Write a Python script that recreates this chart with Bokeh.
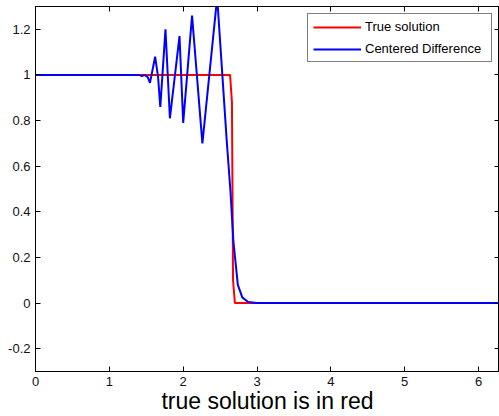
import numpy as np
from bokeh.plotting import figure
from bokeh.models import Range1d, FixedTicker, LinearAxis, Legend, LegendItem
from bokeh.embed import file_html
from bokeh.resources import INLINE

# ---- data ----
true_x = [0.0, 2.635, 2.66, 2.675, 2.70, 6.2832]
true_y = [1.0, 1.0, 0.88, 0.10, 0.0, 0.0]

cd_x = [0.0, 1.40, 1.44, 1.48, 1.52, 1.55, 1.62, 1.66, 1.69, 1.76, 1.82, 1.95,
        2.00, 2.12, 2.26, 2.46, 2.59, 2.64, 2.68, 2.74, 2.80, 2.88, 3.00, 6.2832]
cd_y = [1.0, 1.0, 0.995, 1.0, 0.99, 0.965, 1.08, 0.99, 0.86, 1.20, 0.81, 1.17,
        0.79, 1.26, 0.70, 1.34, 0.71, 0.49, 0.27, 0.08, 0.025, 0.005, 0.0, 0.0]

x_ticks = [0, 1, 2, 3, 4, 5, 6]
x_tick_labels = ["0", "1", "2", "3", "4", "5", "6"]
y_ticks = [-0.2, 0.0, 0.2, 0.4, 0.6, 0.8, 1.0, 1.2]
y_tick_labels = ["-0.2", "0", "0.2", "0.4", "0.6", "0.8", "1", "1.2"]

series_names = ["True solution", "Centered Difference"]
x_label = "true solution is in red"

FONT = "Liberation Sans"

p = figure(width=499, height=416, x_range=Range1d(0, 2 * np.pi), y_range=Range1d(-0.3, 1.3),
           output_backend="svg", toolbar_location=None,
           min_border_left=35, min_border_right=0, min_border_top=6, min_border_bottom=45)
p.xgrid.visible = False
p.ygrid.visible = False
p.outline_line_color = "black"
p.outline_line_width = 1
p.background_fill_color = "white"
p.border_fill_color = "white"

r1 = p.line(true_x, true_y, line_color="#ff0000", line_width=2)
r2 = p.line(cd_x, cd_y, line_color="#0000ff", line_width=2)

def style_axis(ax, ticks, labels=None):
    ax.ticker = FixedTicker(ticks=ticks)
    ax.axis_line_color = "black"
    ax.major_tick_line_color = "black"
    ax.major_tick_in = 5
    ax.major_tick_out = 0
    ax.minor_tick_line_color = None
    ax.major_label_text_font = FONT
    ax.major_label_text_color = "#111111"
    ax.major_label_text_font_size = "13px"
    if labels is not None:
        ax.major_label_overrides = {t: l for t, l in zip(ticks, labels)}
        ax.major_label_standoff = 5
    else:
        ax.major_label_overrides = {t: "" for t in ticks}
        ax.major_label_standoff = 0

xa = p.xaxis[0]
style_axis(xa, x_ticks, x_tick_labels)
xa.major_label_standoff = 5
xa.axis_label = x_label
xa.axis_label_text_font = FONT
xa.axis_label_text_font_size = "23px"
xa.axis_label_text_font_style = "normal"
xa.axis_label_text_color = "black"
xa.axis_label_standoff = -1

ya = p.yaxis[0]
style_axis(ya, y_ticks, y_tick_labels)

ra = LinearAxis()
style_axis(ra, y_ticks)
p.add_layout(ra, "right")
ta = LinearAxis()
style_axis(ta, x_ticks)
p.add_layout(ta, "above")

legend = Legend(items=[LegendItem(label=series_names[0], renderers=[r1]),
                       LegendItem(label=series_names[1], renderers=[r2])],
                location="top_right")
legend.margin = 7
legend.padding = 5
legend.spacing = 7
legend.glyph_width = 48
legend.glyph_height = 14
legend.label_height = 14
legend.label_width = 121
legend.label_standoff = 4
legend.label_text_font = FONT
legend.label_text_font_size = "13px"
legend.label_text_color = "black"
legend.border_line_color = "black"
legend.border_line_width = 1
legend.background_fill_color = "white"
legend.background_fill_alpha = 1
p.add_layout(legend)

open("out.html", "w").write(file_html(p, INLINE))
